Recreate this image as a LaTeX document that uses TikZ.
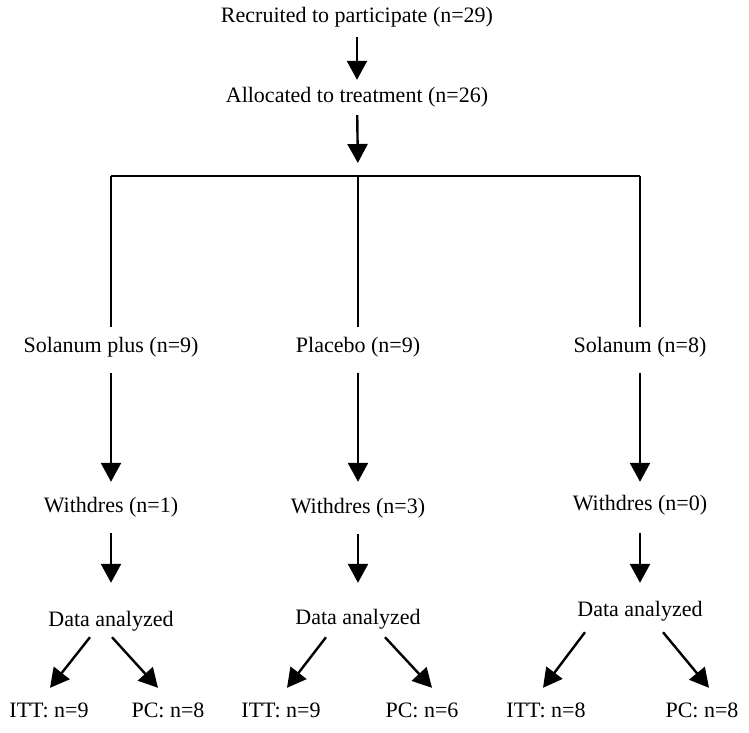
\documentclass[tikz,border=0pt]{standalone}
\usepackage{fontspec}
\setmainfont{Liberation Serif}
\usetikzlibrary{arrows.meta}
\tikzset{
  lbl/.style={font=\fontsize{22}{24}\selectfont, inner sep=0pt, text height=15pt, text depth=5pt},
  arr/.style={line width=2.4pt, -{Triangle[width=20pt,length=19pt]}},
  ln/.style={line width=2.4pt},
}
\begin{document}
\begin{tikzpicture}[x=1pt,y=-1pt]
\useasboundingbox (0,0) rectangle (749,732);
% top
\node[lbl] (rec) at (357,17) {Recruited to participate (n=29)};
\node[lbl] (alloc) at (357,97) {Allocated to treatment (n=26)};
\coordinate (hl) at (111,176);
\coordinate (hm) at (358,176);
\coordinate (hr) at (640,176);
% branches
\node[lbl] (sp) at (111,347) {Solanum plus (n=9)};
\node[lbl] (pl) at (358,347) {Placebo (n=9)};
\node[lbl] (so) at (640,347) {Solanum (n=8)};
\node[lbl] (w1) at (111,507) {Withdres (n=1)};
\node[lbl] (w2) at (358,508) {Withdres (n=3)};
\node[lbl] (w3) at (640,505) {Withdres (n=0)};
\node[lbl] (d1) at (111,621) {Data analyzed};
\node[lbl] (d2) at (358,619) {Data analyzed};
\node[lbl] (d3) at (640,611) {Data analyzed};
\node[lbl] (itt1) at (49,712) {ITT: n=9};
\node[lbl] (pc1) at (168,712) {PC: n=8};
\node[lbl] (itt2) at (281,712) {ITT: n=9};
\node[lbl] (pc2) at (422,712) {PC: n=6};
\node[lbl] (itt3) at (546,712) {ITT: n=8};
\node[lbl] (pc3) at (702,712) {PC: n=8};
% connectors
\draw[arr, shorten <=10pt, shorten >=7pt] (rec) -- (alloc);
\draw[arr, shorten <=8pt, shorten >=13pt] (alloc) -- (hm);
\draw[ln] (hl) -- (hr);
\draw[ln, shorten >=10pt] (hl) -- (sp);
\draw[ln, shorten >=10pt] (hm) -- (pl);
\draw[ln, shorten >=10pt] (hr) -- (so);
\draw[arr, shorten <=16pt, shorten >=15pt] (sp) -- (w1);
\draw[arr, shorten <=16pt, shorten >=16pt] (pl) -- (w2);
\draw[arr, shorten <=16pt, shorten >=13pt] (so) -- (w3);
\draw[arr, shorten <=16pt, shorten >=28pt] (w1) -- (d1);
\draw[arr, shorten <=16pt, shorten >=26pt] (w2) -- (d2);
\draw[arr, shorten <=18pt, shorten >=18pt] (w3) -- (d3);
\draw[arr] ([shift={(-21,6)}]d1.south) -- ([shift={(1,-14)}]itt1.north);
\draw[arr] ([shift={(1,6)}]d1.south) -- ([shift={(-10,-14)}]pc1.north);
\draw[arr] ([shift={(-32,8)}]d2.south) -- ([shift={(6,-14)}]itt2.north);
\draw[arr] ([shift={(27,8)}]d2.south) -- ([shift={(10,-14)}]pc2.north);
\draw[arr] ([shift={(-55,11)}]d3.south) -- ([shift={(-3,-14)}]itt3.north);
\draw[arr] ([shift={(23,11)}]d3.south) -- ([shift={(7,-14)}]pc3.north);
\end{tikzpicture}
\end{document}
